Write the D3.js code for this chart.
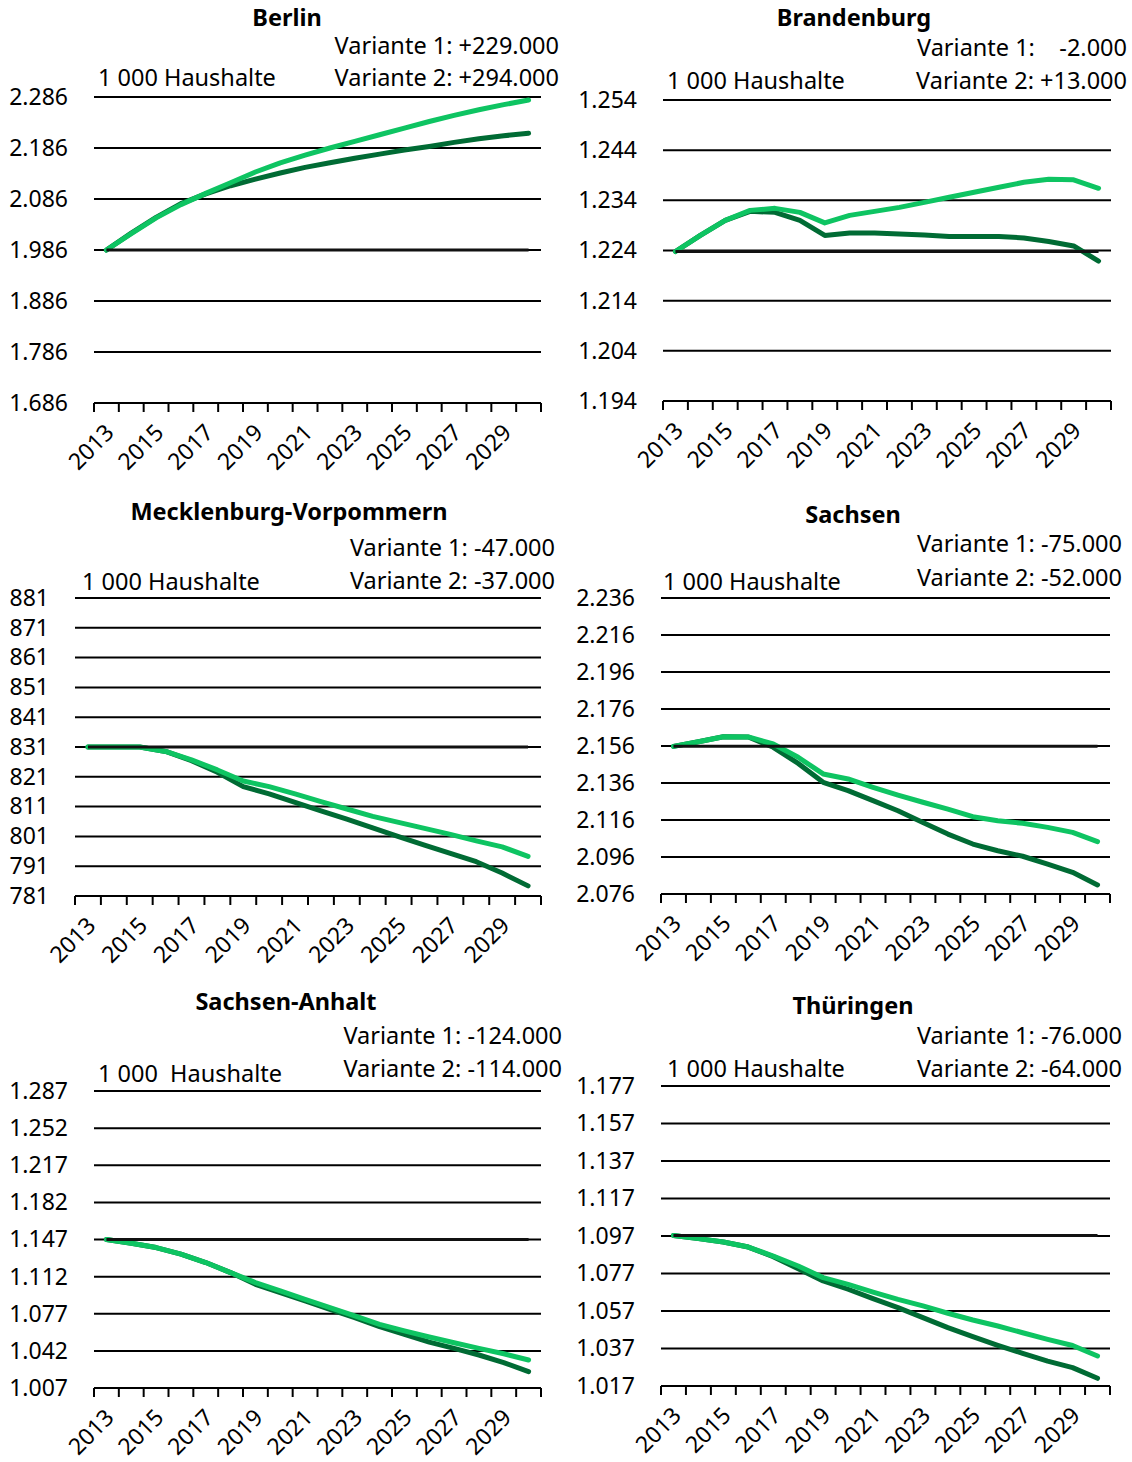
<!DOCTYPE html>
<html>
<head>
<meta charset="utf-8">
<script src="https://cdn.jsdelivr.net/npm/d3@7"></script>
<style>
  body { margin: 0; background: #fff; }
  svg text { font-family: "Noto Sans", sans-serif; fill: #000; }
</style>
</head>
<body>
<svg id="chart" width="1132" height="1462"></svg>
<script>
const width = 1132;
const height = 1462;

// categories
const years = ["2013","2014","2015","2016","2017","2018","2019","2020","2021",
               "2022","2023","2024","2025","2026","2027","2028","2029","2030"];
const tickYears = ["2013","2015","2017","2019","2021","2023","2025","2027","2029"];

// Haushalte in 1 000, Variante 1 (dunkel) und Variante 2 (hell)
const berlinV1 = [1986, 2019, 2050, 2077, 2096, 2112, 2125, 2137, 2148, 2157, 2166, 2174, 2182, 2189, 2197, 2204, 2210, 2215];
const berlinV2 = [1986, 2018, 2049, 2075, 2097, 2118, 2139, 2157, 2172, 2186, 2199, 2212, 2225, 2238, 2250, 2261, 2271, 2280];
const berlinTicks = [1686, 1786, 1886, 1986, 2086, 2186, 2286];

const brandenburgV1 = [1223.8, 1227.0, 1230.0, 1231.8, 1231.6, 1230.0, 1227.0, 1227.5, 1227.5, 1227.3, 1227.1, 1226.8, 1226.8, 1226.8, 1226.5, 1225.8, 1224.9, 1221.9];
const brandenburgV2 = [1223.8, 1227.0, 1230.0, 1232.0, 1232.4, 1231.6, 1229.5, 1231.0, 1231.8, 1232.6, 1233.6, 1234.6, 1235.6, 1236.6, 1237.6, 1238.2, 1238.1, 1236.4];
const brandenburgTicks = [1194, 1204, 1214, 1224, 1234, 1244, 1254];

const mvV1 = [831, 831, 831, 829.5, 826.4, 822.5, 817.7, 815.3, 812.4, 809.6, 806.8, 803.9, 800.9, 798.1, 795.3, 792.5, 788.7, 784.4];
const mvV2 = [831, 831, 831, 829.5, 826.7, 823.3, 819.6, 817.7, 815.3, 812.7, 810.2, 807.7, 805.7, 803.7, 801.7, 799.5, 797.5, 794.3];
const mvTicks = [781, 791, 801, 811, 821, 831, 841, 851, 861, 871, 881];

const sachsenV1 = [2155.8, 2158.3, 2161.0, 2160.9, 2155.3, 2146.6, 2136.4, 2131.9, 2126.5, 2121.0, 2114.7, 2108.4, 2103.0, 2099.4, 2096.4, 2092.2, 2087.7, 2080.9];
const sachsenV2 = [2155.8, 2158.3, 2161.0, 2160.9, 2157.1, 2149.9, 2140.9, 2138.2, 2133.7, 2129.5, 2125.6, 2121.9, 2117.8, 2115.6, 2114.2, 2112.0, 2109.3, 2104.3];
const sachsenTicks = [2076, 2096, 2116, 2136, 2156, 2176, 2196, 2216, 2236];

const saV1 = [1147, 1143.5, 1139.4, 1133.2, 1125.3, 1115.8, 1104.8, 1097.0, 1089.1, 1081.2, 1073.3, 1064.8, 1057.6, 1050.3, 1044.4, 1038.1, 1030.9, 1022.4];
const saV2 = [1147, 1143.5, 1139.4, 1133.2, 1125.3, 1115.8, 1106.4, 1098.5, 1090.6, 1082.8, 1074.9, 1067.0, 1060.8, 1055.1, 1049.7, 1044.4, 1039.3, 1033.4];
const saTicks = [1007, 1042, 1077, 1112, 1147, 1182, 1217, 1252, 1287];

const thV1 = [1097.3, 1095.6, 1093.8, 1091.1, 1086.0, 1079.6, 1073.0, 1068.6, 1063.6, 1058.8, 1053.5, 1048.1, 1043.3, 1038.7, 1034.4, 1030.3, 1026.8, 1021.1];
const thV2 = [1097.3, 1095.6, 1093.8, 1091.1, 1086.3, 1081.0, 1074.8, 1071.2, 1067.1, 1063.2, 1059.7, 1055.8, 1052.2, 1049.0, 1045.4, 1041.9, 1038.6, 1033.0];
const thTicks = [1017, 1037, 1057, 1077, 1097, 1117, 1137, 1157, 1177];

const titles = ["Berlin", "Brandenburg", "Mecklenburg-Vorpommern", "Sachsen", "Sachsen-Anhalt", "Thüringen"];
const variante1 = ["Variante 1: +229.000", "Variante 1:    -2.000", "Variante 1: -47.000", "Variante 1: -75.000", "Variante 1: -124.000", "Variante 1: -76.000"];
const variante2 = ["Variante 2: +294.000", "Variante 2: +13.000", "Variante 2: -37.000", "Variante 2: -52.000", "Variante 2: -114.000", "Variante 2: -64.000"];
const unitLabels = ["1 000 Haushalte", "1 000 Haushalte", "1 000 Haushalte", "1 000 Haushalte", "1 000  Haushalte", "1 000 Haushalte"];

// layout per panel (pixel positions)
const layout = [
  { x0: 94,  x1: 541,  yTop: 97,   yBot: 403,  titleX: 287, titleY: 26,   v1Y: 54,   v2Y: 86,   uX: 98,  uY: 86,   aR: 559 },
  { x0: 663, x1: 1111, yTop: 100,  yBot: 401,  titleX: 854, titleY: 26,   v1Y: 56,   v2Y: 89,   uX: 667, uY: 89,   aR: 1127 },
  { x0: 75,  x1: 541,  yTop: 598,  yBot: 896,  titleX: 289, titleY: 520,  v1Y: 556,  v2Y: 589,  uX: 82,  uY: 590,  aR: 555 },
  { x0: 661, x1: 1110, yTop: 598,  yBot: 894,  titleX: 853, titleY: 523,  v1Y: 552,  v2Y: 586,  uX: 663, uY: 590,  aR: 1122 },
  { x0: 94,  x1: 541,  yTop: 1091, yBot: 1388, titleX: 286, titleY: 1010, v1Y: 1044, v2Y: 1077, uX: 98,  uY: 1082, aR: 562 },
  { x0: 661, x1: 1110, yTop: 1086, yBot: 1386, titleX: 853, titleY: 1014, v1Y: 1044, v2Y: 1077, uX: 667, uY: 1077, aR: 1122 }
];

const series = [
  [berlinV1, berlinV2, berlinTicks],
  [brandenburgV1, brandenburgV2, brandenburgTicks],
  [mvV1, mvV2, mvTicks],
  [sachsenV1, sachsenV2, sachsenTicks],
  [saV1, saV2, saTicks],
  [thV1, thV2, thTicks]
];

const colorV1 = "#006b34";
const colorV2 = "#0ec462";

const de = d3.formatLocale({ decimal: ",", thousands: ".", grouping: [3], currency: ["", " €"] });
const fmt = de.format(",d");

const svg = d3.select("#chart");

series.forEach(([v1, v2, ticks], i) => {
  const L = layout[i];
  const g = svg.append("g");

  const x = d3.scaleBand().domain(years).range([L.x0, L.x1]).padding(0);
  const y = d3.scaleLinear().domain([ticks[0], ticks[ticks.length - 1]]).range([L.yBot, L.yTop]);
  const cx = d => x(d) + x.bandwidth() / 2;

  // gridlines
  g.selectAll(".grid")
    .data(ticks)
    .enter()
    .append("line")
    .attr("x1", L.x0)
    .attr("x2", L.x1)
    .attr("y1", d => y(d))
    .attr("y2", d => y(d))
    .attr("stroke", "#000")
    .attr("stroke-width", 2);

  // y labels
  g.append("g")
    .attr("transform", `translate(${L.x0},0)`)
    .call(d3.axisLeft(y).tickValues(ticks).tickFormat(fmt).tickSize(0).tickPadding(26))
    .call(a => a.select(".domain").remove())
    .selectAll("text")
    .style("font-size", "23px")
    .style("font-family", "'Noto Sans', sans-serif")
    .attr("fill", "#000");

  // x axis ticks at category boundaries
  const bounds = years.map(d => x(d)).concat([L.x1]);
  g.selectAll(".xtick")
    .data(bounds)
    .enter()
    .append("line")
    .attr("x1", d => d)
    .attr("x2", d => d)
    .attr("y1", L.yBot)
    .attr("y2", L.yBot + 9)
    .attr("stroke", "#000")
    .attr("stroke-width", 2);

  // x labels, rotated
  g.selectAll(".xlab")
    .data(tickYears)
    .enter()
    .append("text")
    .attr("transform", d => `translate(${cx(d) + 9},${L.yBot + 31}) rotate(-45)`)
    .attr("text-anchor", "end")
    .style("font-size", "23px")
    .text(d => d);

  const line = d3.line()
    .x((d, j) => cx(years[j]))
    .y(d => y(d));

  g.append("path")
    .datum(v1)
    .attr("d", line)
    .attr("fill", "none")
    .attr("stroke", colorV1)
    .attr("stroke-width", 5)
    .attr("stroke-linejoin", "round")
    .attr("stroke-linecap", "round");

  g.append("path")
    .datum(v2)
    .attr("d", line)
    .attr("fill", "none")
    .attr("stroke", colorV2)
    .attr("stroke-width", 5)
    .attr("stroke-linejoin", "round")
    .attr("stroke-linecap", "round");

  // base level (2013)
  g.append("line")
    .attr("x1", cx(years[0]))
    .attr("x2", cx(years[years.length - 1]))
    .attr("y1", y(v1[0]))
    .attr("y2", y(v1[0]))
    .attr("stroke", "#111")
    .attr("stroke-width", 3);

  // title and notes
  g.append("text")
    .attr("x", L.titleX)
    .attr("y", L.titleY)
    .attr("text-anchor", "middle")
    .style("font-size", "23.5px")
    .style("font-weight", "bold")
    .text(titles[i]);

  g.append("text")
    .attr("x", L.aR)
    .attr("y", L.v1Y)
    .attr("text-anchor", "end")
    .style("font-size", "23.5px")
    .style("white-space", "pre")
    .text(variante1[i]);

  g.append("text")
    .attr("x", L.aR)
    .attr("y", L.v2Y)
    .attr("text-anchor", "end")
    .style("font-size", "23.5px")
    .style("white-space", "pre")
    .text(variante2[i]);

  g.append("text")
    .attr("x", L.uX)
    .attr("y", L.uY)
    .style("font-size", "23.5px")
    .style("white-space", "pre")
    .text(unitLabels[i]);
});
</script>
</body>
</html>
